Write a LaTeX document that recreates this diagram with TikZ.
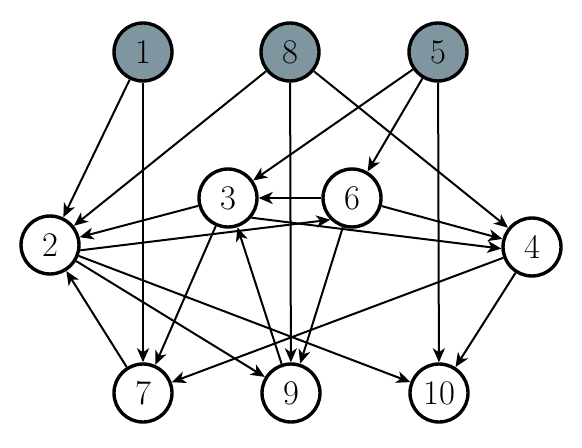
\documentclass[tikz,border=0pt]{standalone}
\usepackage{tikz}
\usetikzlibrary{arrows.meta}
\definecolor{SourceGray}{RGB}{127,149,159}

\begin{document}
\begin{tikzpicture}[x=0.5pt,y=-0.5pt,>={Stealth[length=7pt,width=6pt,inset=2pt]},
    vtx/.style={circle,draw,line width=1.7pt,minimum size=29pt,inner sep=0pt,font=\LARGE},
    src/.style={vtx,fill=SourceGray},
    edge/.style={->,line width=1pt}]
      \useasboundingbox (0,0) rectangle (582,448);
      \node[src] (n1) at (143,52) {1};
      \node[src] (n8) at (290,52) {8};
      \node[src] (n5) at (438,52) {5};
      \node[vtx] (n3) at (228,198) {3};
      \node[vtx] (n6) at (352,198) {6};
      \node[vtx] (n2) at (50,245) {2};
      \node[vtx] (n4) at (532,247) {4};
      \node[vtx] (n7) at (143,393) {7};
      \node[vtx] (n9) at (291,393) {9};
      \node[vtx] (n10) at (439,393) {10};
      % edges from the top row
      \draw[edge] (n1)--(n2);
      \draw[edge] (n1)--(n7);
      \draw[edge] (n8)--(n2);
      \draw[edge] (n8)--(n9);
      \draw[edge] (n8)--(n4);
      \draw[edge] (n5)--(n3);
      \draw[edge] (n5)--(n6);
      \draw[edge] (n5)--(n10);
      % middle row
      \draw[edge] (n6.west)--(n3.east);
      \draw[edge] (n3)--(n2);
      \draw[edge] (n2.-10)--(n6.225);
      \draw[edge] (n3.-40)--(n4.183);
      \draw[edge] (n6)--(n4);
      \draw[edge] (n3)--(n7);
      \draw[edge] (n6)--(n9);
      \draw[edge] (n9)--(n3);
      % lower edges
      \draw[edge] (n2)--(n10);
      \draw[edge] (n2)--(n9);
      \draw[edge] (n7)--(n2);
      \draw[edge] (n4)--(n7);
      \draw[edge] (n4)--(n10);
    \end{tikzpicture}
\end{document}
